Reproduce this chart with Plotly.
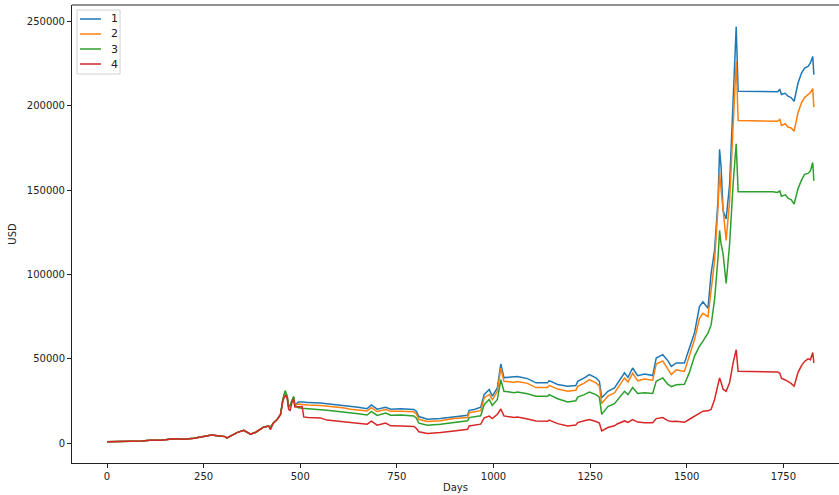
import plotly.graph_objects as go

# Day index of each sample
days = [
    0, 30, 60, 90, 111, 140, 172, 200, 225, 241, 260, 271, 290, 306, 310, 325,
    336, 354, 371, 385, 397, 405, 418, 423, 430, 440, 449, 455, 461, 466, 470,
    474, 479, 483, 486, 495, 505, 509, 520, 552, 569, 587, 610, 630, 650, 673,
    684, 699, 721, 734, 760, 794, 800, 807, 829, 863, 898, 933, 937, 950, 967,
    976, 989, 997, 1010, 1019, 1027, 1053, 1062, 1088, 1110, 1140, 1144, 1166,
    1192, 1213, 1218, 1235, 1248, 1265, 1274, 1280, 1296, 1313, 1320, 1339,
    1348, 1360, 1373, 1391, 1412, 1421, 1438, 1451, 1460, 1473, 1494, 1507,
    1520, 1533, 1542, 1555, 1563, 1572, 1581, 1585, 1589, 1594, 1602, 1611,
    1620, 1628, 1633, 1680, 1723, 1735, 1741, 1745, 1755, 1762, 1770, 1778,
    1788, 1797, 1805, 1814, 1820, 1826, 1829,
]

# Portfolio value in USD for each strategy
usd_1 = [
    900, 1000, 1100, 1300, 1800, 1700, 2600, 2400, 3000, 3500, 4200, 4800, 4300, 3900, 3000, 4800,
    6300, 7600, 5400, 6500, 8300, 9500, 10200, 9500, 11800, 14000, 17000, 26000, 30500, 28000, 21500,
    22500, 25500, 27500, 22500, 24500, 24400, 24300, 24200, 23800, 23400, 23100, 22500, 21800, 21300, 20500,
    22700, 20200, 21300, 20200, 20400, 20000, 19000, 15800, 14200, 14600, 15800, 16600, 19500, 20000, 21300,
    28900, 31800, 27900, 32800, 47000, 38900, 39100, 39500, 38300, 35800, 35800, 37100, 34800,
    33800, 34200, 36700, 38700, 40700, 38700, 36700, 26900, 30800, 32800, 35000, 41700,
    39000, 44600, 40000, 41000, 40100, 50500, 52500, 49000, 45600, 47600, 47600, 56400,
    65300, 81000, 83900, 80000, 100600, 114400, 143900, 174300, 163500, 138000, 133000, 153700,
    202800, 247000, 208700, 208700, 208700, 208500, 209700, 206800, 207500, 205800, 205000, 202800,
    213600, 219500, 222500, 223500, 225500, 229400, 218600,
]
usd_2 = [
    900, 1000, 1100, 1300, 1800, 1700, 2600, 2400, 3000, 3500, 4200, 4800, 4300, 3900, 3000, 4800,
    6300, 7600, 5400, 6500, 8300, 9500, 10200, 9500, 11800, 14000, 17000, 26000, 30000, 28000, 21500,
    22500, 25500, 27500, 22500, 23200, 23000, 22900, 22700, 22300, 22000, 21800, 21000, 20200, 19800, 19100,
    21100, 18800, 20000, 18900, 19000, 18600, 17500, 14200, 12900, 13300, 14700, 15200, 18100, 18500, 19300,
    26900, 28900, 25900, 30800, 44600, 36700, 36200, 36600, 35500, 33000, 33100, 34300, 32100,
    30800, 31400, 33700, 35600, 37700, 35800, 34000, 23600, 28000, 29800, 32000, 38700,
    36200, 41500, 37000, 38100, 37400, 47000, 48800, 43600, 40700, 43500, 42600, 52000,
    61300, 74000, 77000, 75000, 92000, 108000, 139900, 160500, 150000, 138000, 120300, 143900,
    191000, 226400, 191400, 191400, 191400, 191000, 192000, 188500, 189500, 187500, 187000, 185100,
    196000, 202000, 205000, 206500, 208000, 210300, 199300,
]
usd_3 = [
    900, 1000, 1100, 1300, 1800, 1700, 2600, 2400, 3000, 3500, 4200, 4800, 4300, 3900, 3000, 4800,
    6300, 7600, 5400, 6500, 8300, 9500, 10200, 9500, 11800, 14000, 17000, 26000, 31200, 28000, 21500,
    22500, 25500, 27500, 22500, 21000, 20700, 20600, 20300, 19800, 19500, 19100, 18600, 18100, 17500, 16700,
    18900, 16500, 17900, 16600, 16700, 16200, 15000, 11900, 10700, 11300, 12300, 13300, 15200, 15500, 16300,
    23000, 25900, 22400, 25900, 37700, 30800, 30000, 30300, 29300, 27900, 27800, 28800, 26400,
    24400, 25200, 27300, 28800, 30300, 28800, 27300, 17100, 21700, 23400, 25500, 30800,
    28800, 33000, 29500, 29900, 29500, 36700, 38700, 35000, 33500, 34700, 35000, 42000,
    51500, 57500, 60500, 65300, 70000, 85000, 110000, 126200, 118000, 112400, 94700, 118300,
    153700, 177600, 149200, 149200, 149200, 148700, 149600, 146500, 147300, 145300, 144500, 141900,
    151000, 156000, 159500, 160000, 161500, 166500, 155700,
]
usd_4 = [
    900, 1000, 1100, 1300, 1800, 1700, 2600, 2400, 3000, 3500, 4200, 4800, 4300, 3900, 3000, 4800,
    6300, 7600, 5400, 6500, 8300, 9500, 10200, 8000, 11800, 14000, 17000, 25000, 28500, 27000, 20000,
    19500, 24500, 26000, 21500, 21800, 21800, 15600, 15300, 15000, 13700, 13300, 12800, 12300, 11900, 11300,
    13100, 10700, 11900, 10300, 10200, 9900, 8900, 6800, 5800, 6300, 7300, 8300, 10200, 10500, 11300,
    15000, 16100, 14600, 17100, 20300, 16200, 15200, 15500, 14400, 13200, 13000, 13700, 11600,
    10200, 10800, 12200, 13300, 14100, 12900, 12000, 7300, 9300, 10300, 11400, 13200,
    12300, 14000, 12500, 12200, 12100, 14600, 15200, 13400, 12900, 13000, 12400, 14200,
    16100, 18200, 19000, 19200, 20000, 25900, 33800, 38700, 36000, 32000, 30800, 36000,
    47600, 55400, 42600, 42600, 42600, 42300, 41500, 38500, 37500, 36500, 35500, 33800,
    42000, 46000, 48500, 50000, 49500, 53800, 47600,
]

series_names = ["1", "2", "3", "4"]
series_values = [usd_1, usd_2, usd_3, usd_4]
colors = ["#1f77b4", "#ff7f0e", "#2ca02c", "#d62728"]

x_ticks = [0, 250, 500, 750, 1000, 1250, 1500, 1750]
y_ticks = [0, 50000, 100000, 150000, 200000, 250000]

W, H = 839, 495
ML, MT, MB, MR = 72, 5, 32, 0
PW, PH = W - ML - MR, H - MT - MB


def px_x(px):
    return (px - ML) / PW


def px_y(py):
    return 1 - (py - MT) / PH


fig = go.Figure()
for name, vals, col in zip(series_names, series_values, colors):
    fig.add_trace(go.Scatter(
        x=days, y=vals, mode="lines", name=name,
        line=dict(color=col, width=1.5),
    ))

axis_common = dict(
    showgrid=False, zeroline=False, showline=True, linecolor="#222222", linewidth=1,
    ticks="outside", ticklen=4, tickwidth=1, tickcolor="#222222",
    tickfont=dict(family="DejaVu Sans", size=10, color="#222222"),
)

# Legend box drawn in paper coordinates: frame, line samples, labels
shapes = [dict(
    type="line", xref="paper", yref="paper", x0=0, x1=1, y0=1, y1=1,
    line=dict(color="#222222", width=1),
)]
shapes.append(dict(
    type="rect", xref="paper", yref="paper",
    x0=px_x(77), x1=px_x(120), y0=px_y(74), y1=px_y(10),
    fillcolor="rgba(255,255,255,0.8)", line=dict(color="#d0d0d0", width=1),
))
annotations = []
item_y = [19, 34, 49, 64]
for name, col, yy in zip(series_names, colors, item_y):
    shapes.append(dict(
        type="line", xref="paper", yref="paper",
        x0=px_x(80), x1=px_x(101), y0=px_y(yy), y1=px_y(yy),
        line=dict(color=col, width=1.5),
    ))
    annotations.append(dict(
        xref="paper", yref="paper", x=px_x(109), y=px_y(yy),
        text=name, showarrow=False, xanchor="left", yanchor="middle",
        font=dict(family="DejaVu Sans", size=11, color="#222222"),
    ))

fig.update_layout(
    width=W, height=H,
    margin=dict(l=ML, r=MR, t=MT, b=MB),
    paper_bgcolor="white", plot_bgcolor="white",
    font=dict(family="DejaVu Sans", size=10, color="#222222"),
    xaxis=dict(
        range=[-90.6, 1894], tickvals=x_ticks,
        title=dict(text="Days", standoff=2, font=dict(size=10)),
        **axis_common,
    ),
    yaxis=dict(
        range=[-11744, 259900], tickvals=y_ticks, tickformat="d",
        title=dict(text="USD", standoff=8, font=dict(size=10)),
        **axis_common,
    ),
    shapes=shapes,
    annotations=annotations,
    showlegend=False,
)

fig.write_html("out.html")
